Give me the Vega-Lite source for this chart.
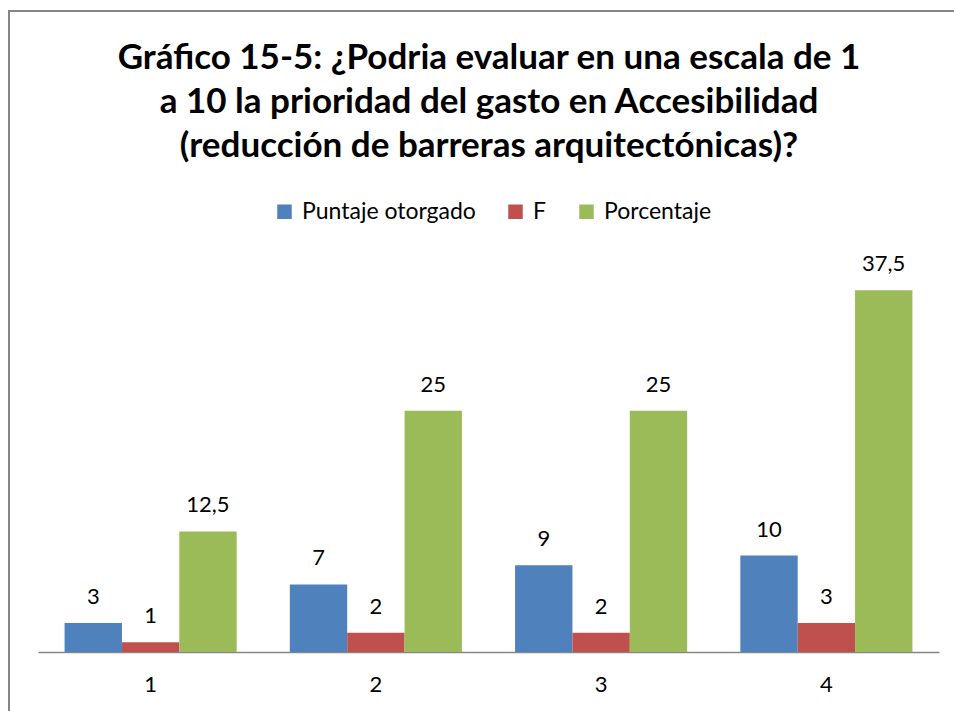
{
  "$schema": "https://vega.github.io/schema/vega-lite/v6.json",
  "width": 960,
  "height": 720,
  "autosize": {"type": "none"},
  "padding": {"left": 9, "top": 11, "right": 0, "bottom": 0},
  "background": "#ffffff",
  "config": {
    "view": {"stroke": "#868686", "strokeWidth": 2},
    "font": "Lato",
    "locale": {"number": {"decimal": ",", "thousands": ".", "grouping": [3], "currency": ["", " €"]}}
  },
  "title": {
    "text": ["Gráfico 15-5: ¿Podria evaluar en una escala de 1", "a 10 la prioridad del gasto en Accesibilidad", "(reducción de barreras arquitectónicas)?"],
    "orient": "top",
    "anchor": "middle",
    "offset": -153,
    "baseline": "top",
    "lineHeight": 44,
    "fontSize": 35,
    "font": "Lato",
    "fontWeight": "bold",
    "color": "#000000"
  },
  "data": {
    "values": [
      {"grupo": "1", "serie": "Puntaje otorgado", "valor": 3},
      {"grupo": "1", "serie": "F", "valor": 1},
      {"grupo": "1", "serie": "Porcentaje", "valor": 12.5},
      {"grupo": "2", "serie": "Puntaje otorgado", "valor": 7},
      {"grupo": "2", "serie": "F", "valor": 2},
      {"grupo": "2", "serie": "Porcentaje", "valor": 25},
      {"grupo": "3", "serie": "Puntaje otorgado", "valor": 9},
      {"grupo": "3", "serie": "F", "valor": 2},
      {"grupo": "3", "serie": "Porcentaje", "valor": 25},
      {"grupo": "4", "serie": "Puntaje otorgado", "valor": 10},
      {"grupo": "4", "serie": "F", "valor": 3},
      {"grupo": "4", "serie": "Porcentaje", "valor": 37.5}
    ]
  },
  "encoding": {
    "x": {
      "field": "grupo",
      "type": "nominal",
      "scale": {"range": [29, 930], "paddingInner": 0.236, "paddingOuter": 0.118},
      "axis": {
        "title": null,
        "orient": "bottom",
        "offset": -79,
        "labelAngle": 0,
        "labelFontSize": 22,
        "labelFont": "Lato",
        "labelColor": "#000000",
        "labelPadding": 22,
        "ticks": false,
        "domainColor": "#868686",
        "domainWidth": 1.5,
        "grid": false
      }
    },
    "xOffset": {
      "field": "serie",
      "type": "nominal",
      "sort": ["Puntaje otorgado", "F", "Porcentaje"],
      "scale": {"paddingInner": 0, "paddingOuter": 0}
    },
    "y": {
      "field": "valor",
      "type": "quantitative",
      "scale": {"domain": [0, 40], "range": [641, 255], "nice": false},
      "axis": null
    }
  },
  "layer": [
    {
      "mark": {"type": "bar"},
      "encoding": {
        "color": {
          "field": "serie",
          "type": "nominal",
          "sort": ["Puntaje otorgado", "F", "Porcentaje"],
          "scale": {"domain": ["Puntaje otorgado", "F", "Porcentaje"], "range": ["#4F81BD", "#C0504D", "#9BBB59"]},
          "legend": {
            "title": null,
            "orient": "none",
            "direction": "horizontal",
            "legendX": 264,
            "legendY": 189,
            "padding": 0,
            "symbolType": "square",
            "symbolSize": 210,
            "symbolStrokeWidth": 0,
            "labelFontSize": 23,
            "labelFont": "Lato",
            "labelColor": "#000000",
            "labelOffset": 6,
            "columnPadding": 28,
            "labelLimit": 400
          }
        }
      }
    },
    {
      "mark": {"type": "text", "baseline": "bottom", "dy": -14, "fontSize": 22, "font": "Lato", "color": "#000000"},
      "encoding": {
        "text": {"field": "valor", "type": "quantitative", "format": ".1~f"}
      }
    }
  ]
}
